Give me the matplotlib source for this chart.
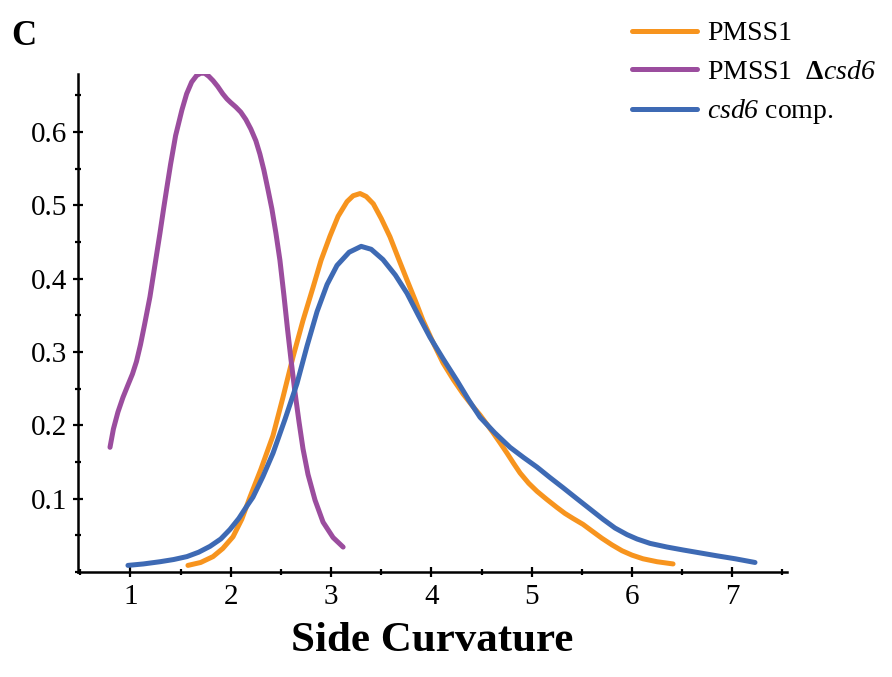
import matplotlib
matplotlib.use("Agg")
import matplotlib.pyplot as plt
from matplotlib.ticker import MultipleLocator

plt.rcParams['font.family'] = ['Liberation Serif', 'DejaVu Serif']
plt.rcParams['mathtext.fontset'] = 'custom'
plt.rcParams['mathtext.rm'] = 'Liberation Serif'
plt.rcParams['mathtext.sf'] = 'Liberation Serif:italic'
plt.rcParams['mathtext.bf'] = 'Liberation Serif:bold'

# ---- data ----
purple_x = [0.796, 0.83, 0.875, 0.925, 0.975, 1.02, 1.06, 1.10, 1.14, 1.194,
            1.24, 1.294, 1.33, 1.364, 1.40, 1.45, 1.513, 1.56, 1.61, 1.66,
            1.70, 1.74, 1.78, 1.823, 1.87, 1.92, 1.962, 2.00, 2.05, 2.10,
            2.15, 2.20, 2.25, 2.29, 2.33, 2.37, 2.41, 2.45, 2.49, 2.53,
            2.565, 2.60, 2.64, 2.68, 2.72, 2.77, 2.84, 2.92, 3.02, 3.12]
purple_y = [0.170, 0.195, 0.218, 0.238, 0.255, 0.270, 0.287, 0.310, 0.337, 0.375,
            0.415, 0.462, 0.495, 0.525, 0.556, 0.595, 0.630, 0.652, 0.668, 0.677,
            0.680, 0.680, 0.676, 0.670, 0.662, 0.652, 0.645, 0.640, 0.634, 0.627,
            0.617, 0.604, 0.588, 0.570, 0.548, 0.522, 0.495, 0.462, 0.425, 0.377,
            0.332, 0.290, 0.245, 0.205, 0.168, 0.133, 0.098, 0.068, 0.047, 0.034]

orange_x = [1.573, 1.70, 1.823, 1.92, 2.022, 2.11, 2.191, 2.30, 2.421, 2.52,
            2.620, 2.72, 2.820, 2.90, 2.989, 3.07, 3.159, 3.22, 3.289, 3.35,
            3.421, 3.50, 3.587, 3.67, 3.757, 3.84, 3.916, 4.02, 4.116, 4.22,
            4.315, 4.40, 4.485, 4.55, 4.614, 4.68, 4.754, 4.82, 4.884, 4.97,
            5.053, 5.15, 5.252, 5.33, 5.412, 5.511, 5.60, 5.70, 5.80, 5.90,
            6.00, 6.11, 6.25, 6.409]
orange_y = [0.009, 0.013, 0.021, 0.032, 0.048, 0.072, 0.102, 0.140, 0.186, 0.238,
            0.293, 0.343, 0.388, 0.425, 0.458, 0.485, 0.505, 0.513, 0.516, 0.512,
            0.502, 0.482, 0.457, 0.428, 0.398, 0.370, 0.343, 0.312, 0.285, 0.262,
            0.243, 0.228, 0.214, 0.202, 0.190, 0.177, 0.162, 0.148, 0.135, 0.121,
            0.110, 0.099, 0.088, 0.080, 0.073, 0.065, 0.056, 0.046, 0.037, 0.029,
            0.023, 0.018, 0.014, 0.011]

blue_x = [0.975, 1.13, 1.294, 1.43, 1.563, 1.68, 1.793, 1.90, 1.992, 2.08,
          2.161, 2.221, 2.32, 2.421, 2.54, 2.660, 2.76, 2.860, 2.96, 3.059,
          3.18, 3.30, 3.40, 3.517, 3.64, 3.757, 3.87, 3.986, 4.12, 4.255,
          4.37, 4.485, 4.63, 4.784, 4.92, 5.053, 5.18, 5.312, 5.45, 5.58,
          5.71, 5.83, 5.95, 6.05, 6.18, 6.35, 6.51, 6.68, 6.85, 7.03, 7.226]
blue_y = [0.009, 0.011, 0.014, 0.017, 0.021, 0.027, 0.035, 0.045, 0.058, 0.073,
          0.090, 0.102, 0.130, 0.162, 0.208, 0.257, 0.308, 0.355, 0.392, 0.418,
          0.436, 0.444, 0.440, 0.426, 0.405, 0.380, 0.350, 0.320, 0.290, 0.261,
          0.235, 0.211, 0.190, 0.170, 0.156, 0.143, 0.129, 0.115, 0.100, 0.086,
          0.072, 0.060, 0.051, 0.045, 0.039, 0.034, 0.030, 0.026, 0.022, 0.018, 0.013]

labels = ['PMSS1', 'PMSS1  $\\mathbf{\u0394}\\mathsf{csd6}$', '$\\mathsf{csd6}$ comp.']
colors = ['#F7941E', '#9B4D9E', '#3E6AB4']
x_ticks = [1, 2, 3, 4, 5, 6, 7]
y_ticks = [0.1, 0.2, 0.3, 0.4, 0.5, 0.6]

# ---- figure ----
fig = plt.figure(figsize=(8.92, 6.77), dpi=100)
ax = fig.add_axes([78/892, 105/677, 709/892, 498/677])

lw = 3.6
style = dict(lw=lw, solid_capstyle='round', solid_joinstyle='round')
ax.plot(orange_x, orange_y, color=colors[0], label=labels[0], **style)
ax.plot(purple_x, purple_y, color=colors[1], label=labels[1], **style)
ax.plot(blue_x, blue_y, color=colors[2], label=labels[2], **style)

ax.set_xlim(0.477, 7.545)
ax.set_ylim(0, 0.679)

for s in ['top', 'right']:
    ax.spines[s].set_visible(False)
for s in ['left', 'bottom']:
    ax.spines[s].set_linewidth(1.8)

ax.set_xticks(x_ticks)
ax.set_xticklabels([str(v) for v in x_ticks])
ax.set_yticks(y_ticks)
ax.set_yticklabels([f"{v:.1f}" for v in y_ticks])
ax.xaxis.set_minor_locator(MultipleLocator(0.5))
ax.yaxis.set_minor_locator(MultipleLocator(0.05))
ax.tick_params(which='major', direction='inout', length=7, width=1.6, labelsize=21, pad=4)
ax.tick_params(which='minor', direction='inout', length=5, width=1.6)
ax.tick_params(axis='x', which='major', pad=5)

ax.set_xlabel('Side Curvature', fontsize=31, fontweight='bold', labelpad=9)

fig.text(11/892, 1 - 45/677, 'C', fontsize=25, fontweight='bold', va='baseline', ha='left')

leg = ax.legend(loc='upper left', bbox_to_anchor=(632/892, 1 - 21/677),
                bbox_transform=fig.transFigure, frameon=False, fontsize=20,
                handlelength=2.34, handletextpad=0.36, labelspacing=0.46,
                borderpad=0, borderaxespad=0)

fig.savefig('out.png', dpi=100)
